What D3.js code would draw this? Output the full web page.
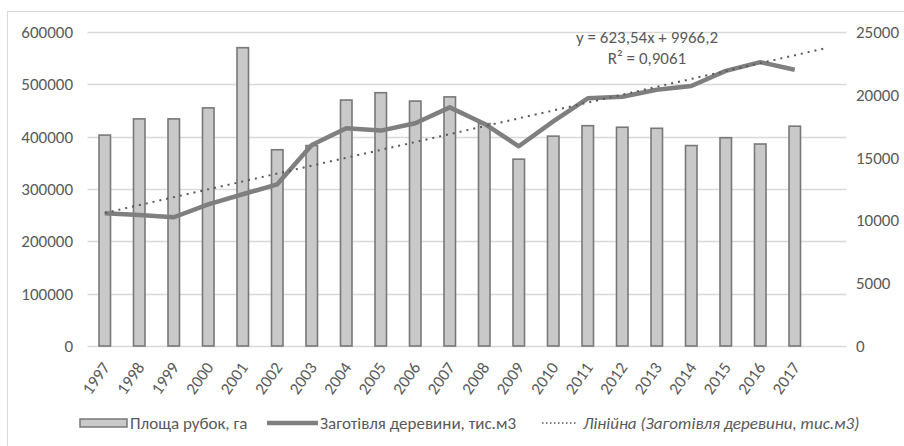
<!DOCTYPE html>
<html>
<head>
<meta charset="utf-8">
<script src="https://cdn.jsdelivr.net/npm/d3@7"></script>
<style>
	body { margin: 0; background: #fff; }
	svg text { font-family: Carlito, Calibri, "Liberation Sans", sans-serif; fill: #595959; font-size: 17px; }
</style>
</head>
<body>
<svg id="chart" width="904" height="446"></svg>
<script>
/*
	Data
*/
const years = ['1997','1998','1999','2000','2001','2002','2003','2004','2005','2006','2007',
	'2008','2009','2010','2011','2012','2013','2014','2015','2016','2017']
const area = [403000, 434000, 434000, 455000, 570000, 375000, 383000, 470000, 484000, 468000, 476000,
	425000, 357000, 401000, 421000, 418000, 416000, 383000, 398000, 386000, 420000]
const harvest = [10570, 10430, 10250, 11280, 12080, 12870, 16000, 17330, 17150, 17730, 19000,
	17700, 15900, 17880, 19720, 19850, 20400, 20700, 21900, 22600, 22000]
const leftTicks = [0, 100000, 200000, 300000, 400000, 500000, 600000]
const rightTicks = [0, 5000, 10000, 15000, 20000, 25000]
// linear trendline as printed on the chart, x = 1..n, forward one period
const trendSlope = 623.54
const trendIntercept = 9966.2
const trendLabel = ['y = 623,54x + 9966,2', 'R² = 0,9061']
const legendNames = ['Площа рубок, га', 'Заготівля деревини, тис.м3', 'Лінійна (Заготівля деревини, тис.м3)']

/*
	Layout
*/
const plot = {left: 87.5, right: 846.5, top: 32, bottom: 346}
const svg = d3.select('#chart')

//one empty slot after 2017 for the forecast part of the trendline
const x = d3.scaleBand().domain(d3.range(years.length + 1)).range([plot.left, plot.right])
const yL = d3.scaleLinear().domain([0, 600000]).range([plot.bottom, plot.top])
const yR = d3.scaleLinear().domain([0, 25000]).range([plot.bottom, plot.top])
const cx = i => x(i) + x.bandwidth() / 2

//chart border
svg.append('rect')
	.attr('x', 7.5).attr('y', 11.5).attr('width', 1000).attr('height', 1000)
	.attr('fill', 'none').attr('stroke', '#d9d9d9')

//gridlines
svg.append('g').selectAll('line').data(leftTicks).join('line')
	.attr('x1', plot.left).attr('x2', plot.right)
	.attr('y1', d => Math.round(yL(d)) + 0.5).attr('y2', d => Math.round(yL(d)) + 0.5)
	.attr('stroke', '#d9d9d9').attr('stroke-width', 1.3)

//left axis labels
svg.append('g').selectAll('text').data(leftTicks).join('text')
	.attr('x', 73).attr('y', d => yL(d)).attr('dy', '0.35em')
	.attr('text-anchor', 'end')
	.text(d => d)

//right axis labels
svg.append('g').selectAll('text').data(rightTicks).join('text')
	.attr('x', 856).attr('y', d => yR(d)).attr('dy', '0.35em')
	.text(d => d)

//x labels, rotated
svg.append('g').selectAll('text').data(years).join('text')
	.attr('transform', (d, i) => `translate(${cx(i) + 1},${plot.bottom + 18}) rotate(-55)`)
	.attr('text-anchor', 'end').attr('dy', '0.35em')
	.text(d => d)

//bars
const barW = x.bandwidth() / 3
svg.append('g').selectAll('rect').data(area).join('rect')
	.attr('x', (d, i) => cx(i) - barW / 2)
	.attr('y', d => yL(d))
	.attr('width', barW)
	.attr('height', d => plot.bottom - yL(d))
	.attr('fill', '#c9c9c9').attr('stroke', '#787878').attr('stroke-width', 1.6)

//harvest line
const line = d3.line().x((d, i) => cx(i)).y(d => yR(d))
svg.append('path').datum(harvest)
	.attr('d', line)
	.attr('fill', 'none').attr('stroke', '#7f7f7f').attr('stroke-width', 4.5)
	.attr('stroke-linejoin', 'round')

//trendline from first year to one period past the last one
const trendEnds = [0, years.length]
svg.append('line')
	.attr('x1', cx(trendEnds[0])).attr('y1', yR(trendIntercept + trendSlope * (trendEnds[0] + 1)))
	.attr('x2', cx(trendEnds[1]) - 5).attr('y2', yR(trendIntercept + trendSlope * (trendEnds[1] + 1)))
	.attr('stroke', '#595959').attr('stroke-width', 2)
	.attr('stroke-dasharray', '2 5')

//trend equation
svg.append('g').selectAll('text').data(trendLabel).join('text')
	.attr('x', 647).attr('y', (d, i) => 37 + i * 21).attr('dy', '0.35em')
	.attr('text-anchor', 'middle')
	.text(d => d)

/*
	Legend
*/
const legend = svg.append('g').attr('transform', 'translate(0,423)')
legend.append('rect')
	.attr('x', 80).attr('y', -4).attr('width', 47).attr('height', 8)
	.attr('fill', '#c9c9c9').attr('stroke', '#787878').attr('stroke-width', 1.5)
legend.append('text').attr('x', 130).attr('dy', '0.35em').text(legendNames[0])
legend.append('line')
	.attr('x1', 267).attr('x2', 318)
	.attr('stroke', '#7f7f7f').attr('stroke-width', 4.5)
legend.append('text').attr('x', 320).attr('dy', '0.35em').text(legendNames[1])
legend.append('line')
	.attr('x1', 542).attr('x2', 578)
	.attr('stroke', '#595959').attr('stroke-width', 1.5).attr('stroke-dasharray', '1.5 2.5')
legend.append('text').attr('x', 583).attr('dy', '0.35em').attr('font-style', 'italic').text(legendNames[2])
</script>
</body>
</html>
